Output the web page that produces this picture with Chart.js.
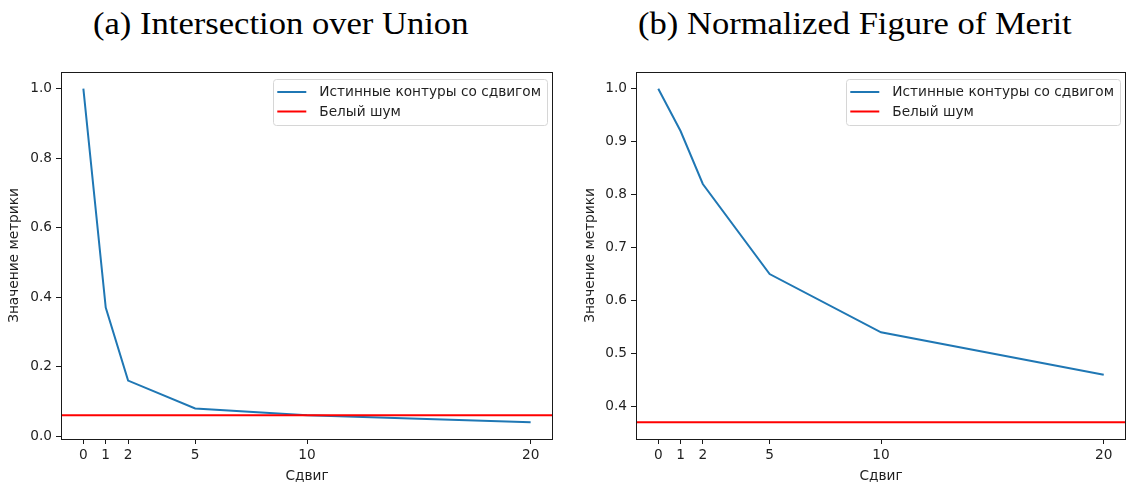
<!DOCTYPE html>
<html>
<head>
<meta charset="utf-8">
<script src="https://cdn.jsdelivr.net/npm/chart.js@4.4.1/dist/chart.umd.min.js"></script>
<style>
  html, body { margin: 0; padding: 0; background: #fff; }
  #wrap { position: relative; width: 1128px; height: 485px; overflow: hidden; background: #fff; }
  .title { position: absolute; top: 7px; font-family: "Liberation Serif", serif; font-size: 32px; line-height: 32px; color: #000; white-space: nowrap; transform-origin: center center; }
  .cv { position: absolute; top: 0; width: 564px; height: 485px; }
</style>
</head>
<body>
<div id="wrap">
  <div class="title" id="t1">(a) Intersection over Union</div>
  <div class="title" id="t2">(b) Normalized Figure of Merit</div>
  <div class="cv" style="left:0px"><canvas id="c1" width="564" height="485"></canvas></div>
  <div class="cv" style="left:564px"><canvas id="c2" width="564" height="485"></canvas></div>
</div>
<script>
// ---- data ----
const shifts = [0, 1, 2, 5, 10, 20];
const iouValues = [1.0, 0.37, 0.16, 0.08, 0.06, 0.04];
const nfomValues = [1.0, 0.92, 0.82, 0.65, 0.54, 0.46];
const iouNoise = 0.06;
const nfomNoise = 0.37;
const xTickLabels = [0, 1, 2, 5, 10, 20];
const iouYTicks = [0.0, 0.2, 0.4, 0.6, 0.8, 1.0];
const nfomYTicks = [0.4, 0.5, 0.6, 0.7, 0.8, 0.9, 1.0];
const xRange = [-1, 21];
const iouYRange = [-0.008, 1.048];
const nfomYRange = [0.3385, 1.0315];
const seriesLabels = ["Истинные контуры со сдвигом", "Белый шум"];
const xAxisTitle = "Сдвиг";
const yAxisTitle = "Значение метрики";

// ---- titles ----
function placeTitle(id, centerX, targetW) {
  const el = document.getElementById(id);
  const w = el.offsetWidth;
  el.style.left = (centerX - w / 2) + "px";
  el.style.transform = "scaleX(" + (targetW / w) + ")";
}
placeTitle("t1", 280.5, 375);
placeTitle("t2", 855, 434);

const FONT = "'DejaVu Sans', sans-serif";
const FS = 13.7;
Chart.defaults.font.family = FONT;
Chart.defaults.font.size = FS;
Chart.defaults.color = "#1f1f1f";

const framePlugin = {
  id: "frame",
  afterDatasetsDraw(chart) {
    const { ctx, chartArea: a } = chart;
    ctx.save();
    ctx.strokeStyle = "#1a1a1a";
    ctx.lineWidth = 1;
    ctx.strokeRect(Math.round(a.left) + 0.5, Math.round(a.top) + 0.5, Math.round(a.right - a.left) - 1, Math.round(a.bottom - a.top));
    ctx.restore();
  },
  afterDraw(chart) {
    // matplotlib-style legend inside upper right
    const { ctx, chartArea: a } = chart;
    const ds = chart.data.datasets;
    ctx.save();
    ctx.font = FS + "px " + FONT;
    let tw = 0;
    ds.forEach(d => { tw = Math.max(tw, ctx.measureText(d.label).width); });
    const padL = 4, handle = 29, gap = 13, padR = 6, rowH = 19.5, padT = 13;
    const w = padL + handle + gap + tw + padR;
    const h = padT + rowH * (ds.length - 1) + 13;
    const right = a.right - 6;
    const left = right - w;
    const top = a.top + 7;
    ctx.fillStyle = "rgba(255,255,255,0.85)";
    ctx.strokeStyle = "#d6d6d6";
    ctx.lineWidth = 1;
    ctx.beginPath();
    ctx.roundRect(Math.round(left) + 0.5, Math.round(top) + 0.5, Math.round(w), Math.round(h), 3);
    ctx.fill();
    ctx.stroke();
    ds.forEach((d, i) => {
      const y = top + padT + rowH * i;
      ctx.strokeStyle = d.borderColor;
      ctx.lineWidth = d.borderWidth;
      ctx.beginPath();
      ctx.moveTo(left + padL, y);
      ctx.lineTo(left + padL + handle, y);
      ctx.stroke();
      ctx.fillStyle = "#1f1f1f";
      ctx.textBaseline = "middle";
      ctx.textAlign = "left";
      ctx.fillText(d.label, left + padL + handle + gap, y + 0.5);
    });
    ctx.restore();
  }
};

function makeChart(id, values, noise, yTicks, yRange, yWidth, yTitlePad, padRight) {
  return new Chart(document.getElementById(id), {
    type: "line",
    data: {
      datasets: [
        {
          label: seriesLabels[0],
          data: shifts.map((s, i) => ({ x: s, y: values[i] })),
          borderColor: "#1f77b4",
          borderWidth: 2,
          pointRadius: 0,
          tension: 0,
          order: 1
        },
        {
          label: seriesLabels[1],
          data: xRange.map(x => ({ x: x, y: noise })),
          borderColor: "#ff0000",
          borderWidth: 2,
          pointRadius: 0,
          tension: 0,
          order: 0
        }
      ]
    },
    options: {
      responsive: false,
      animation: false,
      events: [],
      layout: { padding: { left: 0, right: padRight, top: 72, bottom: 0 } },
      plugins: { legend: { display: false }, tooltip: { enabled: false }, title: { display: false } },
      scales: {
        x: {
          type: "linear",
          min: xRange[0],
          max: xRange[1],
          afterBuildTicks: s => { s.ticks = xTickLabels.map(v => ({ value: v })); },
          afterFit: s => { s.height = 46; },
          ticks: { padding: 3, color: "#1f1f1f", maxRotation: 0, autoSkip: false, callback: v => String(v) },
          grid: { drawOnChartArea: false, drawTicks: true, tickLength: 5, tickColor: "#1a1a1a", lineWidth: 1 },
          border: { display: false },
          title: { display: true, text: xAxisTitle, color: "#1f1f1f", font: { size: FS }, padding: { top: 0, bottom: 0 } }
        },
        y: {
          type: "linear",
          min: yRange[0],
          max: yRange[1],
          afterBuildTicks: s => { s.ticks = yTicks.map(v => ({ value: v })); },
          afterFit: s => { s.width = yWidth; },
          ticks: { padding: 4, color: "#1f1f1f", autoSkip: false, callback: v => Number(v).toFixed(1) },
          grid: { drawOnChartArea: false, drawTicks: true, tickLength: 5, tickColor: "#1a1a1a", lineWidth: 1 },
          border: { display: false },
          title: { display: true, text: yAxisTitle, color: "#1f1f1f", font: { size: FS }, padding: { top: yTitlePad, bottom: 0 } }
        }
      }
    },
    plugins: [framePlugin]
  });
}

makeChart("c1", iouValues, iouNoise, iouYTicks, iouYRange, 61, 6.5, 11);
makeChart("c2", nfomValues, nfomNoise, nfomYTicks, nfomYRange, 72, 18.5, 2);
</script>
</body>
</html>
